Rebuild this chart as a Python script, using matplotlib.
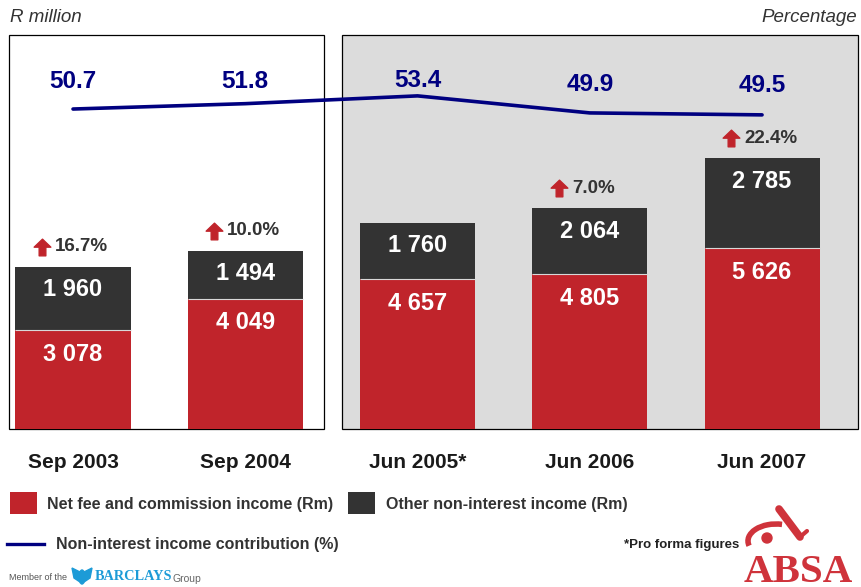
import matplotlib.pyplot as plt
from matplotlib.patches import Rectangle, Arc, Circle, Ellipse, Polygon
from matplotlib.path import Path
import matplotlib.transforms as mtransforms
import numpy as np

plt.rcParams['font.family'] = ['Liberation Sans', 'DejaVu Sans']

periods      = ["Sep 2003", "Sep 2004", "Jun 2005*", "Jun 2006", "Jun 2007"]
net_fee      = [3078, 4049, 4657, 4805, 5626]   # Rm
other_income = [1960, 1494, 1760, 2064, 2785]   # Rm
contribution = [50.7, 51.8, 53.4, 49.9, 49.5]   # %
growth       = ["16.7%", "10.0%", None, "7.0%", "22.4%"]

RED   = '#c0242b'
DARK  = '#333333'
PANEL = '#dcdcdc'
NAVY  = '#000080'
TXT   = '#333333'

W, H = 862, 587
fig = plt.figure(figsize=(W / 100, H / 100), dpi=100)

def fx(px):
    return px / W

def fy(py):
    return 1 - py / H

# main plotting area (bars + line)
ax = fig.add_axes([fx(9), fy(429), (858 - 9) / W, (429 - 35) / H])
ax.set_xlim(-0.3716, 4.557)
ax.set_ylim(0, 12251)
ax.axis('off')

# Sep (white) and Jun (grey) panels
ax.add_patch(Rectangle((0, 0), 0.371, 1, transform=ax.transAxes, fc='white',
                       ec='black', lw=0.9, zorder=0, clip_on=False))
ax.add_patch(Rectangle((0.392, 0), 0.608, 1, transform=ax.transAxes, fc=PANEL,
                       ec='black', lw=0.9, zorder=0, clip_on=False))

x = np.arange(len(periods))
bw = 0.668
totals = np.array(net_fee) + np.array(other_income)
ax.bar(x, net_fee, width=bw, color=RED, edgecolor='none', zorder=2)
ax.bar(x, other_income, bottom=net_fee, width=bw, color=DARK, edgecolor='none', zorder=2)
ax.hlines(net_fee, x - bw / 2, x + bw / 2, color='#d8d8d8', lw=0.8, zorder=3)

def fmt(v):
    return f"{v:,}".replace(",", " ")

for xi, nf, tot, ot in zip(x, net_fee, totals, other_income):
    ax.annotate(fmt(nf), (xi, nf), xytext=(0, -24), textcoords='offset pixels',
                ha='center', va='center', color='white', fontsize=17, fontweight='bold', zorder=4)
    ax.annotate(fmt(ot), (xi, tot), xytext=(0, -23), textcoords='offset pixels',
                ha='center', va='center', color='white', fontsize=17, fontweight='bold', zorder=4)

# growth arrows above the bars
arrow = Path([(-0.5, 0.02), (0, 0.5), (0.5, 0.02), (0.2, 0.02), (0.2, -0.5),
              (-0.2, -0.5), (-0.2, 0.02), (-0.5, 0.02)], closed=True)
for xi, tot, g in zip(x, totals, growth):
    if g is None:
        continue
    tr = mtransforms.offset_copy(ax.transData, fig=fig, x=-31, y=20, units='dots')
    ax.plot([xi], [tot], marker=arrow, markersize=12, color=RED, transform=tr,
            linestyle='none', clip_on=False)
    ax.annotate(g, (xi, tot), xytext=(-18, 20), textcoords='offset pixels',
                ha='left', va='center', color=TXT, fontsize=13.5, fontweight='bold')

# category labels
for xi, p in zip(x, periods):
    ax.annotate(p, (xi, 0), xytext=(0, -34), textcoords='offset pixels',
                ha='center', va='center', color='#1a1a1a', fontsize=15, fontweight='bold',
                annotation_clip=False)

# contribution line on its own scale
ax2 = ax.twinx()
ax2.set_xlim(ax.get_xlim())
ax2.set_ylim(-15.0, 65.9)
ax2.axis('off')
ax2.plot(x, contribution, color=NAVY, lw=2.6, solid_capstyle='round', zorder=5)
label_dy = [28, 22, 15, 28, 29]
for xi, c, dy in zip(x, contribution, label_dy):
    ax2.annotate(f"{c:.1f}", (xi, c), xytext=(0, dy), textcoords='offset pixels',
                 ha='center', va='center', color=NAVY, fontsize=17.5, fontweight='bold')

fig.text(fx(10), fy(17), "R million", style='italic', fontsize=13.5, color=TXT, va='center')
fig.text(fx(857), fy(17), "Percentage", style='italic', fontsize=13.5, color=TXT,
         va='center', ha='right')

# legend, footnote and logos in pixel space
ov = fig.add_axes([0, 0, 1, 1])
ov.set_xlim(0, W)
ov.set_ylim(H, 0)
ov.axis('off')

ov.add_patch(Rectangle((10, 492), 27, 22, fc=RED, ec='none'))
ov.text(47, 504, "Net fee and commission income (Rm)", va='center', fontsize=11.5,
        fontweight='bold', color=TXT)
ov.add_patch(Rectangle((348, 492), 27, 22, fc=DARK, ec='none'))
ov.text(386, 504, "Other non-interest income (Rm)", va='center', fontsize=11.5,
        fontweight='bold', color=TXT)
ov.plot([7, 44], [544, 544], color=NAVY, lw=2.4)
ov.text(56, 544, "Non-interest income contribution (%)", va='center', fontsize=11.5,
        fontweight='bold', color=TXT)
ov.text(739, 545, "*Pro forma figures", ha='right', va='center', fontsize=9.5,
        fontweight='bold', color='#222222')

# ABSA logo
ABSA_RED = '#cf333b'
ov.text(744, 582, "ABSA", family='Liberation Serif', fontweight='bold', fontsize=29.5,
        color=ABSA_RED, va='baseline', ha='left')
ov.add_patch(Arc((776, 541), 56, 34, theta1=170, theta2=290, lw=4, color=ABSA_RED))
ov.add_patch(Circle((767, 538), 5, color=ABSA_RED))
ov.plot([779, 800], [509, 537], color=ABSA_RED, lw=5.5, solid_capstyle='round')
ov.plot([800, 807], [537, 531], color=ABSA_RED, lw=3, solid_capstyle='round')

# Barclays strapline
BARC = '#1d9bd7'
ov.text(9, 578, "Member of the", va='center', fontsize=6.5, color='#555555')
ov.add_patch(Ellipse((82, 577), 6, 14, color=BARC))
ov.add_patch(Polygon([(80, 572), (72, 568), (74, 578), (80, 582)], color=BARC))
ov.add_patch(Polygon([(84, 572), (92, 568), (90, 578), (84, 582)], color=BARC))
ov.text(95, 577, "BARCLAYS", family='Liberation Serif', fontweight='bold', fontsize=10.3,
        color=BARC, va='center')
ov.text(173, 579, "Group", va='center', fontsize=7.5, color='#666666')

fig.savefig("out.png", dpi=100)
